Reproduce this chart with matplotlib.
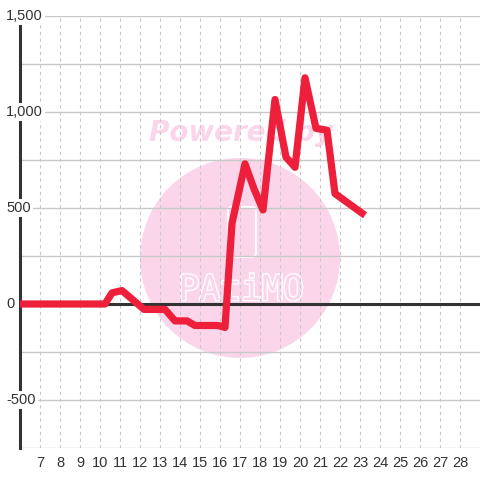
import matplotlib
matplotlib.use("Agg")
import matplotlib.pyplot as plt
from matplotlib.patches import Circle, FancyBboxPatch
import matplotlib.patheffects as pe
import matplotlib.transforms as mtransforms

# data
x_vals = [6, 10.25, 10.6, 11.1, 12.2, 13.25, 13.75, 14.35, 14.75, 15.9, 16.25, 16.6,
          17.25, 17.7, 18.15, 18.75, 19.3, 19.75, 20.25, 20.8, 21.35, 21.75, 23.25]
y_vals = [0, 0, 58, 70, -28, -28, -88, -88, -112, -112, -122, 420,
          730, 600, 490, 1065, 765, 712, 1178, 915, 905, 575, 462]
x_ticks = list(range(7, 29))
y_ticks = [-500, 0, 500, 1000, 1500]
y_tick_labels = ["-500", "0", "500", "1,000", "1,500"]

W = H = 480
fig = plt.figure(figsize=(4.8, 4.8), dpi=100)
fig.patch.set_facecolor("white")
ax = fig.add_axes([20 / W, 32 / H, 460 / W, 432 / H])
ax.set_facecolor("white")
ax.set_xlim(6, 29)
ax.set_ylim(-750, 1500)

font = "Liberation Sans"
txt_color = "#333333"
pink = "#fbd6eb"

# grid
for v in range(-750, 1501, 250):
    ax.axhline(v, color="#c8c8c8", lw=1, zorder=0.5)
for v in x_ticks:
    ax.axvline(v, color="#c8c8c8", lw=0.8, ls=(0, (3, 3)), zorder=0.5)

# watermark (inside axes so it stays under the series)
circ = Circle((240 / W, 1 - 258 / H), 100 / W, transform=fig.transFigure,
              facecolor=pink, edgecolor="none", zorder=0.1, clip_on=False)
ax.add_patch(circ)
ax.text(241 / W, 1 - 133 / H, "Powered by", transform=fig.transFigure,
        ha="center", va="center", fontsize=20, fontweight="bold", style="italic",
        color=pink, family="DejaVu Sans", zorder=0.2, clip_on=False)
icon = FancyBboxPatch((228 / W, 1 - 257 / H), 28 / W, 50 / H,
                      boxstyle="round,pad=0,rounding_size=0.008",
                      transform=fig.transFigure, facecolor="none",
                      edgecolor="white", lw=1.5, zorder=0.3, clip_on=False)
ax.add_patch(icon)
ax.text(241 / W, 1 - 290 / H, "PAtiMO", transform=fig.transFigure,
        ha="center", va="center", fontsize=25, color=pink, family="DejaVu Sans Mono",
        path_effects=[pe.withStroke(linewidth=2.0, foreground="white")],
        zorder=0.3, clip_on=False)

# zero line
ax.axhline(0, color="#333333", lw=2.2, zorder=2)

# series
ax.plot(x_vals, y_vals, color="#ee1f3a", lw=5.2, solid_joinstyle="round",
        solid_capstyle="butt", zorder=3)

# spines
for s in ["top", "right", "bottom"]:
    ax.spines[s].set_visible(False)
ax.spines["left"].set_color("#333333")
ax.spines["left"].set_linewidth(2.2)
ax.spines["left"].set_zorder(2.5)

# ticks
ax.set_xticks(x_ticks)
ax.set_xticklabels([str(t) for t in x_ticks], fontsize=10.5, family=font, color=txt_color)
ax.tick_params(axis="x", length=0, pad=6)
ax.set_yticks([])
ytrans = mtransforms.blended_transform_factory(fig.transFigure, ax.transData)
for v, lab in zip(y_ticks, y_tick_labels):
    ax.text(6 / W, v, lab, transform=ytrans, ha="left", va="center",
            fontsize=10.5, family=font, color=txt_color, zorder=4, clip_on=False,
            bbox=dict(facecolor="white", edgecolor="none", pad=1.5))

fig.savefig("out.png", dpi=100)
